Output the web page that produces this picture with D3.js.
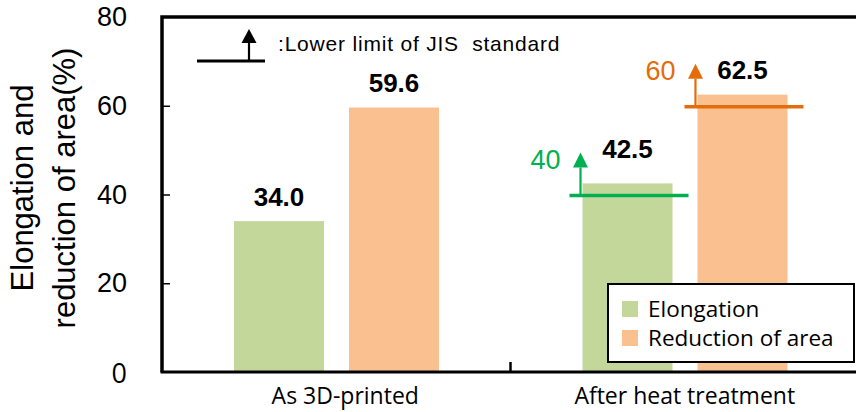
<!DOCTYPE html>
<html>
<head>
<meta charset="utf-8">
<script src="https://cdn.jsdelivr.net/npm/d3@7"></script>
<style>
  body { margin: 0; background: #fff; }
  svg { display: block; }
  .tick-label { font-family: "Liberation Sans", Arial, sans-serif; font-size: 27px; fill: #000; }
  .axis-title { font-family: "Liberation Sans", Arial, sans-serif; font-size: 31px; fill: #000; }
  .cat-label { font-family: "Open Sans", sans-serif; font-size: 23px; fill: #000; }
  .value-label { font-family: "Liberation Sans", Arial, sans-serif; font-size: 26px; font-weight: bold; fill: #000; }
  .legend-label { font-family: "Open Sans", sans-serif; font-size: 22.5px; fill: #000; }
</style>
</head>
<body>
<div id="chart"></div>
<script>
// Data
const categories = ["As 3D-printed", "After heat treatment"];
const seriesNames = ["Elongation", "Reduction of area"];
const elongation = [34.0, 42.5];
const reductionOfArea = [59.6, 62.5];
// JIS lower limits (only shown after heat treatment)
const jisElongation = [null, 40];
const jisReduction = [null, 60];
const yTicks = [0, 20, 40, 60, 80];

const width = 856, height = 412;
const margin = { top: 17, right: -3, bottom: 40, left: 162 };
const innerWidth = width - margin.left - margin.right;
const innerHeight = height - margin.top - margin.bottom;

const colors = { Elongation: "#c4d79b", "Reduction of area": "#fac090" };
const limitColors = { Elongation: "#00b050", "Reduction of area": "#e46c0a" };

const svg = d3.select("#chart")
    .append("svg")
    .attr("width", width)
    .attr("height", height);

const inner = svg.append("g")
    .attr("transform", `translate(${margin.left},${margin.top})`);

// Scales
const x0 = d3.scaleBand()
    .domain(categories)
    .range([0, innerWidth])
    .paddingInner(0)
    .paddingOuter(0);

const x1 = d3.scaleBand()
    .domain(seriesNames)
    .range([72, 277])
    .paddingInner(0.217);

const y = d3.scaleLinear()
    .domain([0, 80])
    .range([innerHeight, 0]);

const rows = categories.map((c, i) => ({
    category: c,
    values: [
        { key: "Elongation", value: elongation[i], limit: jisElongation[i] },
        { key: "Reduction of area", value: reductionOfArea[i], limit: jisReduction[i] }
    ]
}));

/*************/
/* Bars      */
/*************/
const groups = inner.selectAll("g.cat")
    .data(rows)
    .join("g")
    .attr("class", "cat")
    .attr("transform", d => `translate(${x0(d.category)},0)`);

groups.selectAll("rect")
    .data(d => d.values)
    .join("rect")
    .attr("x", d => x1(d.key))
    .attr("y", d => y(d.value))
    .attr("width", x1.bandwidth())
    .attr("height", d => y(0) - y(d.value))
    .attr("fill", d => colors[d.key]);

/**************/
/* JIS limits */
/**************/
const drawArrow = (g, x, yBase, color, stemLen, headLen) => {
    g.append("line")
        .attr("x1", x).attr("x2", x)
        .attr("y1", yBase).attr("y2", yBase - stemLen)
        .attr("stroke", color)
        .attr("stroke-width", 2.2);
    g.append("path")
        .attr("d", `M${x - 7.5},${yBase - stemLen} L${x + 7.5},${yBase - stemLen} L${x},${yBase - stemLen - headLen} Z`)
        .attr("fill", color);
};

groups.each(function(d) {
    const g = d3.select(this);
    d.values.filter(v => v.limit != null).forEach(v => {
        const color = limitColors[v.key];
        const xs = x1(v.key) - 13;
        const xe = x1(v.key) + x1.bandwidth() + 16;
        const ly = y(v.limit) + 1;
        g.append("line")
            .attr("x1", xs).attr("x2", xe)
            .attr("y1", ly).attr("y2", ly)
            .attr("stroke", color)
            .attr("stroke-width", 3.5);
        drawArrow(g, xs + 11, ly, color, 28, 15);
        g.append("text")
            .attr("x", xs - 9)
            .attr("y", ly - 27)
            .attr("text-anchor", "end")
            .attr("class", "tick-label")
            .style("fill", color)
            .text(v.limit);
    });
});

// Value labels
groups.selectAll("text.value-label")
    .data(d => d.values)
    .join("text")
    .attr("class", "value-label")
    .attr("text-anchor", "middle")
    .attr("x", d => x1(d.key) + x1.bandwidth() / 2)
    .attr("y", d => y(d.value) - (d.limit != null && d.key === "Elongation" ? 25 : 15.5))
    .text(d => d.value.toFixed(1));

/*************/
/* Axes      */
/*************/
// frame (top border runs off the right edge)
inner.append("path")
    .attr("d", `M0,${innerHeight} L0,0 L${innerWidth},0`)
    .attr("fill", "none")
    .attr("stroke", "#000")
    .attr("stroke-width", 3.5);

inner.append("line")
    .attr("x1", -1.5).attr("x2", innerWidth)
    .attr("y1", innerHeight).attr("y2", innerHeight)
    .attr("stroke", "#000")
    .attr("stroke-width", 3);

const yAxis = inner.append("g")
    .call(d3.axisLeft(y).tickValues(yTicks).tickSize(-8).tickPadding(35));
yAxis.select(".domain").remove();
yAxis.selectAll(".tick line")
    .attr("stroke", "#000")
    .attr("stroke-width", 1.5)
    .filter(d => d === 0 || d === 80).remove();
yAxis.selectAll(".tick text")
    .attr("class", "tick-label")
    .attr("font-size", null)
    .attr("font-family", null);
yAxis.selectAll(".tick").filter(d => d === 0).select("text")
    .style("font-family", "'Open Sans', sans-serif")
    .style("font-size", "27px")
    .attr("dy", "0.38em");

// category separator tick
inner.append("line")
    .attr("x1", x0.step()).attr("x2", x0.step())
    .attr("y1", innerHeight).attr("y2", innerHeight - 10)
    .attr("stroke", "#000")
    .attr("stroke-width", 2.5);

// category labels
inner.selectAll("text.cat-label")
    .data(categories)
    .join("text")
    .attr("class", "cat-label")
    .attr("text-anchor", "middle")
    .attr("x", (d, i) => x0(d) + x0.bandwidth() / 2 + (i === 0 ? 9 : 0))
    .attr("y", innerHeight + 32)
    .text(d => d);

// y-axis title, two lines
const yTitle = svg.append("text")
    .attr("class", "axis-title")
    .attr("text-anchor", "middle")
    .attr("transform", "translate(0,188) rotate(-90)");
yTitle.append("tspan").attr("x", 0).attr("y", 33).text("Elongation and");
yTitle.append("tspan").attr("x", 0).attr("y", 75).text("reduction of area(%)");

/**********************/
/* JIS key (top-left) */
/**********************/
const key = svg.append("g");
key.append("line")
    .attr("x1", 197).attr("x2", 265)
    .attr("y1", 61).attr("y2", 61)
    .attr("stroke", "#000")
    .attr("stroke-width", 3);
drawArrow(key, 249, 61, "#000", 18, 14);
key.append("text")
    .attr("x", 278)
    .attr("y", 51)
    .style("font-family", "'Liberation Sans', Arial, sans-serif")
    .style("font-size", "21px")
    .style("letter-spacing", "0.8px")
    .attr("xml:space", "preserve")
    .text(":Lower limit of JIS  standard");

/*************/
/* Legend    */
/*************/
const legend = svg.append("g")
    .attr("transform", "translate(608,284)");
legend.append("rect")
    .attr("width", 246)
    .attr("height", 78)
    .attr("fill", "#fff")
    .attr("stroke", "#000")
    .attr("stroke-width", 2);
seriesNames.forEach((name, i) => {
    const g = legend.append("g").attr("transform", `translate(14, ${17 + i * 29})`);
    g.append("rect")
        .attr("width", 16)
        .attr("height", 16)
        .attr("fill", colors[name]);
    g.append("text")
        .attr("x", 26)
        .attr("y", 16)
        .attr("class", "legend-label")
        .text(name);
});
</script>
</body>
</html>
